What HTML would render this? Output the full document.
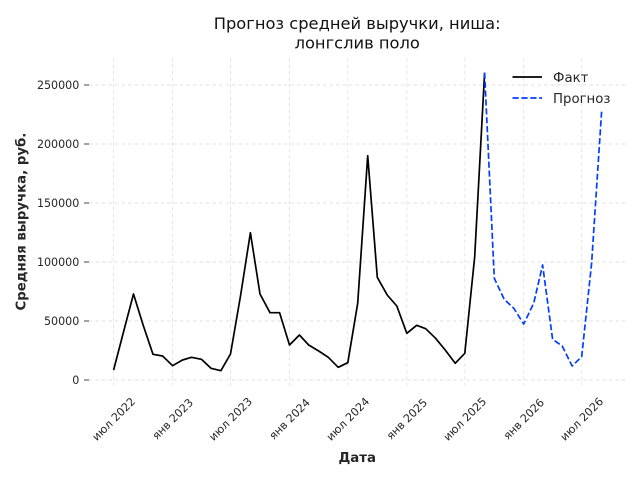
<!DOCTYPE html>
<html><head><meta charset="utf-8"><style>
html,body{margin:0;padding:0;background:#fff;}
svg{display:block;}
text{font-family:"DejaVu Sans","Liberation Sans",sans-serif;}
</style></head><body>
<svg width="640" height="480" viewBox="0 0 640 480" xmlns="http://www.w3.org/2000/svg">
<rect width="640" height="480" fill="#fff"/>
<!-- grid -->
<g stroke="#e2e2e2" stroke-width="0.9" stroke-dasharray="3.5,3" fill="none">
<line x1="89" y1="380" x2="625.4" y2="380"/>
<line x1="89" y1="321" x2="625.4" y2="321"/>
<line x1="89" y1="262" x2="625.4" y2="262"/>
<line x1="89" y1="203" x2="625.4" y2="203"/>
<line x1="89" y1="144" x2="625.4" y2="144"/>
<line x1="89" y1="85" x2="625.4" y2="85"/>
<line x1="113.6" y1="57.8" x2="113.6" y2="385.4"/>
<line x1="172.6" y1="57.8" x2="172.6" y2="385.4"/>
<line x1="230.5" y1="57.8" x2="230.5" y2="385.4"/>
<line x1="289.5" y1="57.8" x2="289.5" y2="385.4"/>
<line x1="347.8" y1="57.8" x2="347.8" y2="385.4"/>
<line x1="406.8" y1="57.8" x2="406.8" y2="385.4"/>
<line x1="464.8" y1="57.8" x2="464.8" y2="385.4"/>
<line x1="523.7" y1="57.8" x2="523.7" y2="385.4"/>
<line x1="581.7" y1="57.8" x2="581.7" y2="385.4"/>
</g>
<!-- y ticks -->
<g stroke="#444" stroke-width="1">
<line x1="84" y1="380" x2="89" y2="380"/>
<line x1="84" y1="321" x2="89" y2="321"/>
<line x1="84" y1="262" x2="89" y2="262"/>
<line x1="84" y1="203" x2="89" y2="203"/>
<line x1="84" y1="144" x2="89" y2="144"/>
<line x1="84" y1="85" x2="89" y2="85"/>
</g>
<g font-size="11.1" fill="#262626" text-anchor="end">
<text x="79.3" y="383.9">0</text>
<text x="79.3" y="324.9">50000</text>
<text x="79.3" y="265.9">100000</text>
<text x="79.3" y="206.9">150000</text>
<text x="79.3" y="147.9">200000</text>
<text x="79.3" y="88.9">250000</text>
</g>
<!-- x tick labels -->
<g font-size="11.1" fill="#262626" text-anchor="middle">
<text transform="translate(113.6,419) rotate(-45)" dy="0.35em">июл 2022</text>
<text transform="translate(172.6,419) rotate(-45)" dy="0.35em">янв 2023</text>
<text transform="translate(230.5,419) rotate(-45)" dy="0.35em">июл 2023</text>
<text transform="translate(289.5,419) rotate(-45)" dy="0.35em">янв 2024</text>
<text transform="translate(347.8,419) rotate(-45)" dy="0.35em">июл 2024</text>
<text transform="translate(406.8,419) rotate(-45)" dy="0.35em">янв 2025</text>
<text transform="translate(464.8,419) rotate(-45)" dy="0.35em">июл 2025</text>
<text transform="translate(523.7,419) rotate(-45)" dy="0.35em">янв 2026</text>
<text transform="translate(581.7,419) rotate(-45)" dy="0.35em">июл 2026</text>
</g>
<!-- axis labels -->
<text x="357.2" y="462" font-size="13.3" font-weight="bold" fill="#262626" text-anchor="middle">Дата</text>
<text transform="translate(25.5,221.6) rotate(-90)" font-size="13.3" font-weight="bold" fill="#262626" text-anchor="middle">Средняя выручка, руб.</text>
<!-- title -->
<g font-size="16.3" fill="#111" text-anchor="middle">
<text x="357.2" y="29">Прогноз средней выручки, ниша:</text>
<text x="357.2" y="48.5">лонгслив поло</text>
</g>
<!-- fact -->
<polyline fill="none" stroke="#000" stroke-width="1.7" stroke-linejoin="round" points="113.6,370 123.5,332 133.5,294 143.1,325 153.0,354.3 162.6,356 172.6,365.7 182.5,360 191.5,357.3 201.4,359.3 211.0,368.3 220.9,370.7 230.5,354 240.5,296 250.4,232.7 260.0,294 270.0,312.7 279.6,312.7 289.5,345 299.4,335 308.7,345 318.7,351 328.3,357.3 338.2,367.3 347.8,362.7 357.7,303.3 367.7,155.7 377.3,277.3 387.2,295 396.8,306 406.8,333.3 416.7,325.3 425.7,328.7 435.6,338.3 445.2,350 455.2,363.3 464.8,353.3 474.7,256.7 484.6,72.7"/>
<!-- forecast -->
<polyline fill="none" stroke="#023eff" stroke-width="1.7" stroke-dasharray="6.2,2.7" stroke-linejoin="round" points="484.6,72.7 494.3,278.3 504.2,299.3 513.8,308.3 523.7,324 533.7,303.3 542.6,265 552.6,339.3 562.2,346 572.1,366 581.7,356.7 591.6,263.3 601.6,111.7"/>
<!-- legend -->
<line x1="512.5" y1="77" x2="542" y2="77" stroke="#000" stroke-width="1.7"/>
<line x1="512.5" y1="98" x2="542" y2="98" stroke="#023eff" stroke-width="1.7" stroke-dasharray="6.2,2.7"/>
<g font-size="13.3" fill="#262626">
<text x="553" y="81.8">Факт</text>
<text x="553" y="102.8">Прогноз</text>
</g>
</svg>
</body></html>
